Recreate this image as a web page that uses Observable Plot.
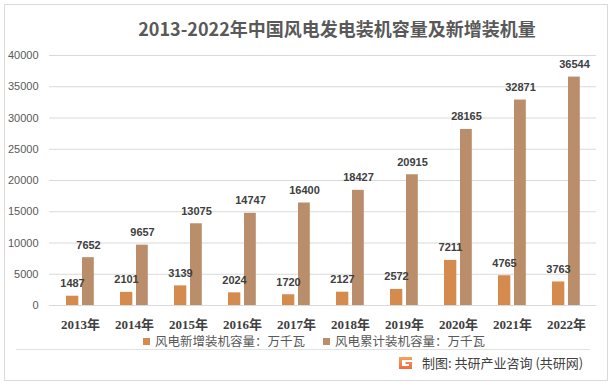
<!DOCTYPE html>
<html>
<head>
<meta charset="utf-8">
<script src="https://cdn.jsdelivr.net/npm/d3@7"></script>
<script src="https://cdn.jsdelivr.net/npm/@observablehq/plot@0.6"></script>
<style>
  html, body { margin: 0; padding: 0; background: #fff; }
  #wrap { position: relative; width: 615px; height: 388px; overflow: hidden; background: #fff; font-family: "Noto Sans CJK SC", "Liberation Sans", sans-serif; }
  #frame { position: absolute; left: 4px; top: 4px; width: 604px; height: 377px; border: 1px solid #d9d9d9; box-sizing: border-box; }
  #title { position: absolute; left: 0; top: 15px; width: 674px; text-align: center; font-size: 18px; font-weight: bold; color: #595959; line-height: 26px; }
  #chart { position: absolute; left: 0; top: 0; }
  #legend { position: absolute; left: 143px; top: 332px; display: flex; align-items: center; font-size: 12.5px; color: #595959; line-height: 18px; white-space: nowrap; }
  .sw { display: inline-block; width: 7px; height: 7px; margin-right: 5px; }
  .item { display: flex; align-items: center; margin-right: 18px; }
  #sep { position: absolute; left: 16px; top: 349px; width: 574px; height: 1px; background: #e3e3e3; }
  #footer { position: absolute; left: 398px; top: 354px; display: flex; align-items: center; font-size: 13px; color: #404040; white-space: nowrap; line-height: 18px; }
  #logo { width: 15px; height: 14px; margin-right: 9px; }
</style>
</head>
<body>
<div id="wrap">
  <div id="frame"></div>
  <div id="chart"></div>
  <div id="title">2013-2022年中国风电发电装机容量及新增装机量</div>
  <div id="legend"></div>
  <div id="sep"></div>
  <div id="footer">
    <svg id="logo" viewBox="0 0 15 14">
      <defs><linearGradient id="lg" x1="0" y1="0" x2="0" y2="1"><stop offset="0" stop-color="#f7a35a"/><stop offset="1" stop-color="#ee6a3c"/></linearGradient></defs>
      <path d="M1 1 H14 V4 H4 V10 H11 V8 H7.5 V6 H14 V13 H1 Z" fill="url(#lg)"/>
    </svg>
    <span>制图: 共研产业咨询 (共研网)</span>
  </div>
</div>
<script>
const years = ["2013年","2014年","2015年","2016年","2017年","2018年","2019年","2020年","2021年","2022年"];
const newCap = [1487, 2101, 3139, 2024, 1720, 2127, 2572, 7211, 4765, 3763];
const cumCap = [7652, 9657, 13075, 14747, 16400, 18427, 20915, 28165, 32871, 36544];
const seriesNames = ["风电新增装机容量：万千瓦", "风电累计装机容量：万千瓦"];
const colors = ["#d58b4d", "#ba8d6b"];
const yTicks = [0, 5000, 10000, 15000, 20000, 25000, 30000, 35000, 40000];

const newData = years.map((y, i) => ({year: y, value: newCap[i]}));
const cumData = years.map((y, i) => ({year: y, value: cumCap[i]}));

const chart = Plot.plot({
  width: 615,
  height: 340,
  marginLeft: 49,
  marginRight: 19,
  marginTop: 55,
  marginBottom: 35,
  style: {background: "transparent", overflow: "visible"},
  x: {type: "band", domain: years, paddingInner: 0, paddingOuter: 0},
  y: {domain: [0, 40000]},
  marks: [
    Plot.ruleY(yTicks, {stroke: "#d9d9d9", strokeWidth: 1}),
    Plot.barY(newData, {x: "year", y: "value", fill: colors[0], insetLeft: 13, insetRight: 28.7}),
    Plot.barY(cumData, {x: "year", y: "value", fill: colors[1], insetLeft: 29, insetRight: 13.2}),
    Plot.text(newData, {x: "year", y: "value", text: d => String(d.value), dx: -8, dy: -9, lineAnchor: "bottom", fontSize: 11, fontWeight: "bold", fill: "#404040", fontFamily: "Liberation Sans, sans-serif"}),
    Plot.text(cumData, {x: "year", y: "value", text: d => String(d.value), dx: 8, dy: -9, lineAnchor: "bottom", fontSize: 11, fontWeight: "bold", fill: "#404040", fontFamily: "Liberation Sans, sans-serif"}),
    Plot.axisY({ticks: yTicks, tickSize: 0, tickPadding: 11, label: null, fontSize: 11, fill: "#595959", fontFamily: "Liberation Sans, sans-serif", tickFormat: d => String(d)}),
    Plot.axisX({tickSize: 0, tickPadding: 14, label: null, fontSize: 13, fontWeight: "bold", fill: "#404040", fontFamily: "Liberation Serif, Noto Sans CJK SC, serif"})
  ]
});
document.getElementById("chart").appendChild(chart);

const legend = document.getElementById("legend");
seriesNames.forEach((n, i) => {
  const it = document.createElement("div");
  it.className = "item";
  const sw = document.createElement("span");
  sw.className = "sw";
  sw.style.background = colors[i];
  const t = document.createElement("span");
  t.textContent = n;
  it.appendChild(sw); it.appendChild(t);
  legend.appendChild(it);
});
</script>
</body>
</html>
